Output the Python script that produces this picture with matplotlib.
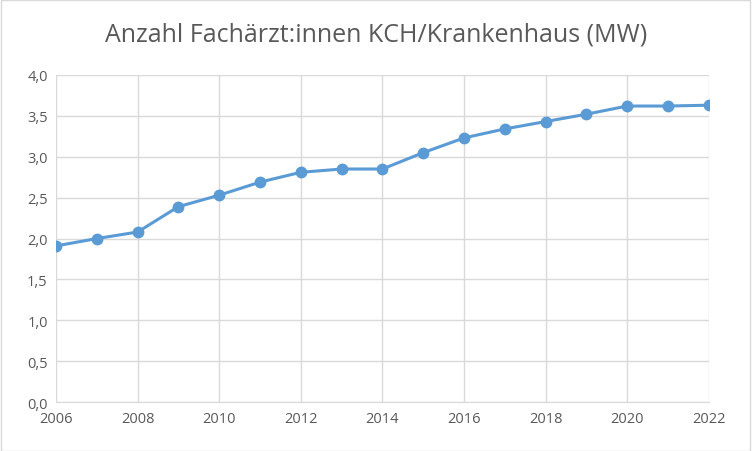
import matplotlib
matplotlib.use("Agg")
import matplotlib.pyplot as plt
from matplotlib.ticker import FuncFormatter, MultipleLocator

years = [2006, 2007, 2008, 2009, 2010, 2011, 2012, 2013, 2014,
         2015, 2016, 2017, 2018, 2019, 2020, 2021, 2022]
values = [1.91, 2.00, 2.08, 2.39, 2.53, 2.69, 2.81, 2.85, 2.85,
          3.05, 3.23, 3.34, 3.43, 3.52, 3.62, 3.62, 3.63]

plt.rcParams["font.family"] = ["Open Sans", "DejaVu Sans"]
fig = plt.figure(figsize=(7.52, 4.52), dpi=100)
ax = fig.add_axes([0.0745, 0.108, 0.868, 0.724])

ax.plot(years, values, color="#5B9BD5", lw=2.2, marker="o", ms=7.5, zorder=3)
ax.set_xlim(2006, 2022)
ax.set_ylim(0, 4)
ax.xaxis.set_major_locator(MultipleLocator(2))
ax.yaxis.set_major_locator(MultipleLocator(0.5))
ax.yaxis.set_major_formatter(FuncFormatter(lambda v, p: f"{v:.1f}".replace(".", ",")))
ax.grid(True, color="#D9D9D9", lw=1)
for s in ax.spines.values():
    s.set_visible(False)
ax.spines["bottom"].set_visible(True)
ax.spines["bottom"].set_color("#D9D9D9")
ax.tick_params(length=0, labelsize=10.5, colors="#595959", pad=6)

fig.suptitle("Anzahl Fachärzt:innen KCH/Krankenhaus (MW)", y=0.95,
             fontsize=18, color="#595959")
fig.patches.append(plt.Rectangle((0.001, 0.001), 0.997, 0.997, transform=fig.transFigure,
                                 fill=False, edgecolor="#D9D9D9", lw=1))
fig.savefig("out.png", dpi=100)
